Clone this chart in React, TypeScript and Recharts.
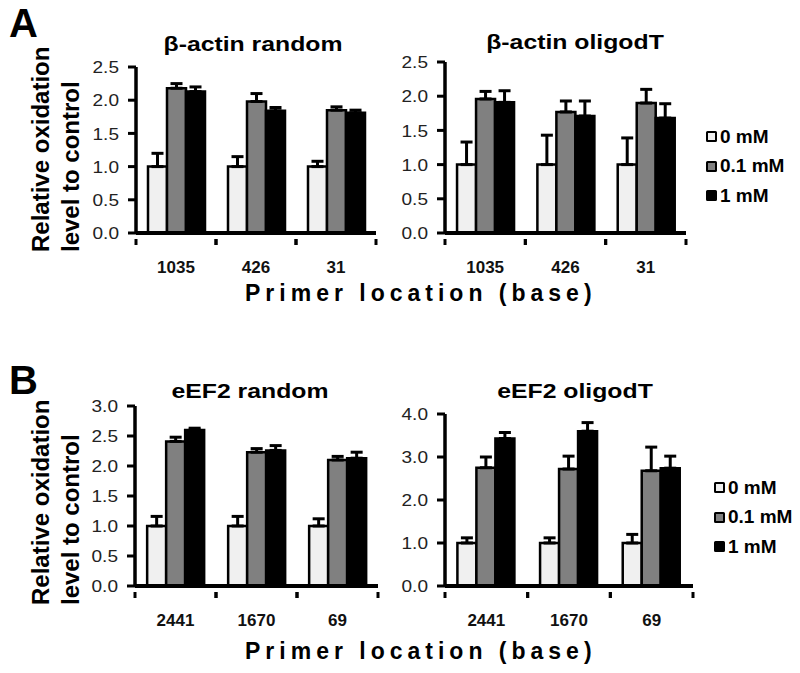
import { BarChart, Bar, XAxis, YAxis, ErrorBar } from 'recharts';

const FONT = '"Liberation Sans", Arial, Helvetica, sans-serif';

// dose series
const SERIES = [
  { key: 'c0', name: '0 mM', fill: '#f0f0f0' },
  { key: 'c01', name: '0.1 mM', fill: '#808080' },
  { key: 'c1', name: '1 mM', fill: '#000000' },
];

// primer locations
const LOC_ACTIN = ['1035', '426', '31'];
const LOC_EEF2 = ['2441', '1670', '69'];

// means per series (0 mM, 0.1 mM, 1 mM), one value per location
const ACTIN_RANDOM = [[1.0, 1.0, 1.0], [2.18, 1.98, 1.85], [2.13, 1.84, 1.81]];
const ACTIN_RANDOM_ERR = [[0.2, 0.15, 0.08], [0.07, 0.12, 0.05], [0.07, 0.05, 0.04]];

const ACTIN_OLIGO = [[1.0, 1.0, 1.0], [1.96, 1.77, 1.9], [1.91, 1.71, 1.68]];
const ACTIN_OLIGO_ERR = [[0.33, 0.43, 0.39], [0.11, 0.16, 0.2], [0.17, 0.22, 0.21]];

const EEF2_RANDOM = [[1.0, 1.0, 1.0], [2.41, 2.23, 2.1], [2.6, 2.26, 2.13]];
const EEF2_RANDOM_ERR = [[0.16, 0.16, 0.12], [0.07, 0.06, 0.06], [0.03, 0.08, 0.1]];

const EEF2_OLIGO = [[1.0, 1.0, 1.0], [2.75, 2.72, 2.68], [3.43, 3.6, 2.74]];
const EEF2_OLIGO_ERR = [[0.12, 0.12, 0.2], [0.25, 0.3, 0.55], [0.14, 0.2, 0.28]];

const TICKS_25 = [0, 0.5, 1, 1.5, 2, 2.5];
const TICKS_30 = [0, 0.5, 1, 1.5, 2, 2.5, 3];
const TICKS_40 = [0, 1, 2, 3, 4];

// category label plus tick marks at the edges of the category band
// (with tickLine off, y arrives tickMargin = 14px below the axis line)
function XTick(props: any) {
  const { x, y, payload, width, visibleTicksCount } = props;
  const half = payload?.offset || (width && visibleTicksCount ? width / visibleTicksCount / 2 : 0);
  return (
    <g>
      <line x1={x - half} x2={x - half} y1={y - 14} y2={y - 8} stroke="#000" strokeWidth={3} />
      <line x1={x + half} x2={x + half} y1={y - 14} y2={y - 8} stroke="#000" strokeWidth={3} />
      <text x={x} y={y + 20} textAnchor="middle" fontFamily={FONT} fontWeight="bold" fontSize={17} fill="#111">
        {payload.value}
      </text>
    </g>
  );
}

function YTick(props: any) {
  const { x, y, payload } = props;
  return (
    <text transform={`translate(${x},${y}) scale(1.12,1)`} textAnchor="end" dy="0.36em" fontFamily={FONT} fontSize={17} fill="#222">
      {Number(payload.value).toFixed(1)}
    </text>
  );
}

function Panel({ x, y, right, bottom, cats, means, errs, max, ticks }: any) {
  const data = cats.map((c: string, i: number) => ({
    loc: c,
    c0: means[0][i], c01: means[1][i], c1: means[2][i],
    e0: [0, errs[0][i]], e01: [0, errs[1][i]], e1: [0, errs[2][i]],
  }));
  const w = right - x + 90;
  const h = bottom - y + 55;
  return (
    <div style={{ position: 'absolute', left: x - 80, top: y - 10 }}>
      <BarChart width={w} height={h} data={data} margin={{ top: 10, right: 10, left: 0, bottom: 0 }}
        barCategoryGap="15%" barGap={0}>
        <XAxis dataKey="loc" height={45} interval={0} tickSize={6} tickMargin={14} tickLine={false}
          axisLine={{ stroke: '#000', strokeWidth: 4 }} tick={<XTick />} />
        <YAxis width={80} type="number" domain={[0, max]} ticks={ticks} tickSize={8} tickMargin={9}
          axisLine={{ stroke: '#000', strokeWidth: 3.5 }} tickLine={{ stroke: '#000', strokeWidth: 3 }}
          tick={<YTick />} />
        {SERIES.map(s => (
          <Bar key={s.key} dataKey={s.key} fill={s.fill} stroke="#000" strokeWidth={2.5} isAnimationActive={false}>
            <ErrorBar dataKey={'e' + s.key.slice(1)} direction="y" width={6} stroke="#000" strokeWidth={3} />
          </Bar>
        ))}
      </BarChart>
    </div>
  );
}

function Legend({ left, top }: { left: number; top: number }) {
  return (
    <div style={{ position: 'absolute', left, top }}>
      {SERIES.map(s => (
        <div key={s.key} style={{ display: 'flex', alignItems: 'center', height: 29.5 }}>
          <div style={{ width: 7, height: 7, background: s.fill, border: '2.5px solid #000', borderRadius: 1.5 }} />
          <span style={{ marginLeft: 3, fontFamily: FONT, fontWeight: 'bold', fontSize: 19, color: '#000' }}>{s.name}</span>
        </div>
      ))}
    </div>
  );
}

const text = (extra: any) => ({ position: 'absolute' as const, fontFamily: FONT, fontWeight: 'bold' as const, color: '#000', whiteSpace: 'nowrap' as const, ...extra });

function Title({ cx, cy, children }: any) {
  return (
    <div style={text({ left: cx - 150, top: cy - 14, width: 300, textAlign: 'center', fontSize: 21, transform: 'scaleX(1.18)' })}>
      {children}
    </div>
  );
}

function YLabel({ bottom }: { bottom: number }) {
  // two rotated lines, start-aligned at the bottom
  return (
    <div style={text({ left: 26, top: bottom, fontSize: 24, lineHeight: '30px', transform: 'rotate(-90deg)', transformOrigin: '0 0' })}>
      <div>Relative oxidation</div>
      <div>level to control</div>
    </div>
  );
}

export default function App() {
  return (
    <div style={{ position: 'absolute', left: 0, top: 0, width: 800, height: 673, background: '#fff', overflow: 'hidden' }}>
      <div style={text({ left: 9, top: 7, fontSize: 40, lineHeight: 0.8 })}>A</div>
      <div style={text({ left: 9, top: 364, fontSize: 40, lineHeight: 0.8 })}>B</div>

      <Title cx={253} cy={46}>β-actin random</Title>
      <Title cx={575} cy={44}>β-actin oligodT</Title>
      <Title cx={250} cy={393}>eEF2 random</Title>
      <Title cx={575} cy={393}>eEF2 oligodT</Title>

      <YLabel bottom={252} />
      <YLabel bottom={605} />

      <Panel x={136} y={67} right={376} bottom={233} cats={LOC_ACTIN} means={ACTIN_RANDOM} errs={ACTIN_RANDOM_ERR} max={2.5} ticks={TICKS_25} />
      <Panel x={445} y={62} right={686} bottom={233} cats={LOC_ACTIN} means={ACTIN_OLIGO} errs={ACTIN_OLIGO_ERR} max={2.5} ticks={TICKS_25} />
      <Panel x={135} y={406} right={378} bottom={586} cats={LOC_EEF2} means={EEF2_RANDOM} errs={EEF2_RANDOM_ERR} max={3} ticks={TICKS_30} />
      <Panel x={445} y={414} right={693} bottom={586} cats={LOC_EEF2} means={EEF2_OLIGO} errs={EEF2_OLIGO_ERR} max={4} ticks={TICKS_40} />

      <Legend left={706} top={122} />
      <Legend left={714} top={473} />

      <div style={text({ left: 245, top: 280, fontSize: 23, letterSpacing: 5 })}>Primer location (base)</div>
      <div style={text({ left: 245, top: 638, fontSize: 23, letterSpacing: 5 })}>Primer location (base)</div>
    </div>
  );
}
